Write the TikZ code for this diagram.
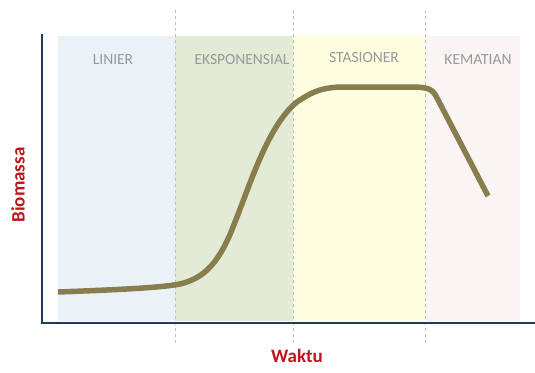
\documentclass[tikz,border=0pt]{standalone}
\usepackage{fontspec}
\setmainfont{Carlito}
\begin{document}
\begin{tikzpicture}[x=1pt,y=-1pt,
  phase/.style={text=gray!80, font=\fontsize{15.5}{18}\selectfont},
  divider/.style={draw=gray!50, dashed, line width=0.6pt},
  axisline/.style={draw=axiscol, line width=2.4pt},
  growth/.style={draw=curvecol, line width=5.5pt, line join=round},
  axislabel/.style={text=labelred, font=\fontsize{19}{22}\selectfont\bfseries}]
\definecolor{axiscol}{HTML}{1E3A5C}
\definecolor{curvecol}{HTML}{877D4D}
\definecolor{labelred}{HTML}{C0141E}
\definecolor{bandA}{HTML}{EAF2F8}
\definecolor{bandB}{HTML}{E3EBD6}
\definecolor{bandC}{HTML}{FDFDE0}
\definecolor{bandD}{HTML}{FAF4F4}
\useasboundingbox[fill=white] (0,0) rectangle (535,372);
% bands
\fill[bandA] (58,36) rectangle (175,321);
\fill[bandB] (175,36) rectangle (293,321);
\fill[bandC] (293,36) rectangle (425,321);
\fill[bandD] (425,36) rectangle (520,321);
% dividers
\draw[divider] (175,10) -- (175,346);
\draw[divider] (293,10) -- (293,346);
\draw[divider] (425,10) -- (425,346);
% phase labels
\node[phase] (lin) at (113,60) {LINIER};
\node[phase] (eks) at (242,60) {EKSPONENSIAL};
\node[phase] (sta) at (364,58) {STASIONER};
\node[phase] (kem) at (478,60) {KEMATIAN};
% axes
\coordinate (top) at (42,34);
\coordinate (origin) at (42,323);
\coordinate (right) at (535,323);
\draw[axisline, line join=miter] (top) -- (origin) -- (right);
% curve
\draw[growth] (58,292) .. controls (110,290) and (160,288) .. (180,284)
  .. controls (205,278) and (220,262) .. (235,222)
  .. controls (250,185) and (268,125) .. (297,102)
  .. controls (309,94) and (318,88) .. (340,87)
  -- (410,87) .. controls (428,87) and (432,89) .. (436,96)
  -- (488,196);
% axis labels
\node[axislabel] (waktu) at (297,356) {Waktu};
\node[axislabel, rotate=90] (bio) at (18,185) {Biomassa};
\end{tikzpicture}
\end{document}
